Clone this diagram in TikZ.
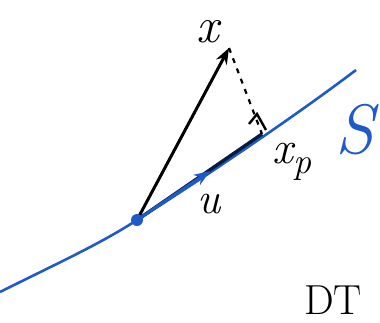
\documentclass[tikz,border=0pt]{standalone}
\usepackage{fontspec}
\usetikzlibrary{arrows.meta}
\definecolor{penblue}{RGB}{30,90,200}
\tikzset{
  lbl/.style={inner sep=0pt},
  vec/.style={line width=3pt,-{Stealth[length=16pt,width=12pt]}},
}
\begin{document}
\begin{tikzpicture}[x=1pt,y=-1pt]
\useasboundingbox (0,0) rectangle (380,322);
\coordinate (o) at (137,220);
\coordinate (x) at (229,48);
\coordinate (xp) at (262,134);
\coordinate (sl) at (0,292);
\coordinate (sr) at (356,70);
% the line S
\draw[penblue, line width=2.6pt] (sl) .. controls (60,262) and (100,244) .. (o)
  .. controls (200,180) and (290,120) .. (sr);
% projection segment
\draw[line width=3.4pt, black!70!penblue] (o) -- (xp);
% vector u
\draw[vec, penblue] (o) -- (210,171);
% vector x
\draw[vec, black] (o) -- (x);
% dotted perpendicular
\draw[line width=2.2pt, dash pattern=on 5pt off 6pt] (x) -- (xp);
% right-angle mark
\draw[line width=2.4pt] (249,124) -- (257,114) -- (266,130);
% origin dot
\fill[penblue] (o) circle (6pt);
% labels
\node[lbl, font=\fontsize{50}{50}\selectfont\itshape] (lx) at (208,32) {x};
\node[lbl, font=\fontsize{46}{46}\selectfont\itshape] (lxp) at (292,162) {x\raisebox{-10pt}{\fontsize{36}{36}\selectfont p}};
\node[lbl, font=\fontsize{44}{44}\selectfont\itshape] (lu) at (209,204) {u};
\node[lbl, font=\fontsize{70}{70}\selectfont\itshape, text=penblue] (ls) at (355,130) {S};
\node[lbl, font=\fontsize{42}{42}\selectfont, anchor=base west] (ldt) at (304,314) {DT};
\end{tikzpicture}
\end{document}
